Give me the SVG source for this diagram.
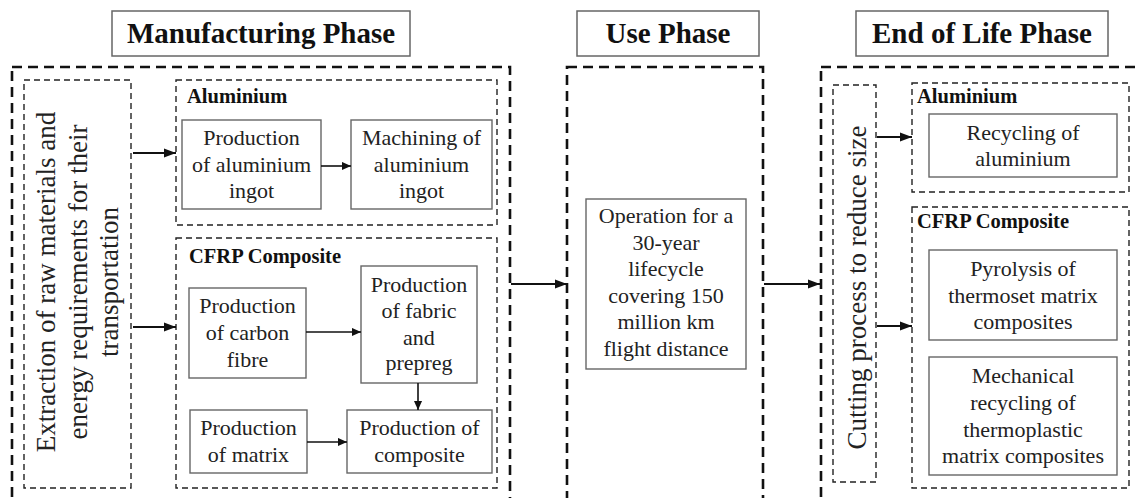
<svg xmlns="http://www.w3.org/2000/svg" width="1135" height="498" viewBox="0 0 1135 498">
<defs>
<marker id="ah" viewBox="0 0 12 10" refX="12" refY="5" markerWidth="12" markerHeight="10" markerUnits="userSpaceOnUse" orient="auto">
<path d="M0,0.5 L12,5 L0,9.5 Z" fill="#111"/>
</marker>
<marker id="ahs" viewBox="0 0 10 10" refX="10" refY="5" markerWidth="10" markerHeight="9" markerUnits="userSpaceOnUse" orient="auto">
<path d="M0,0.5 L10,5 L0,9.5 Z" fill="#111"/>
</marker>
</defs>
<style>
.title{fill:#fff;stroke:#666;stroke-width:1.5}
.tt{font-family:"Liberation Serif","Times New Roman",serif;font-weight:bold;font-size:29px;fill:#111;text-anchor:middle}
.outer{fill:none;stroke:#111;stroke-width:2.6;stroke-dasharray:10 6}
.inner{fill:none;stroke:#222;stroke-width:1.4;stroke-dasharray:6 4}
.box{fill:#fff;stroke:#666;stroke-width:1.4}
.t{font-family:"Liberation Serif","Times New Roman",serif;font-size:22px;fill:#222;text-anchor:middle}
.h{font-family:"Liberation Serif","Times New Roman",serif;font-weight:bold;font-size:20.5px;fill:#111}
.big{font-family:"Liberation Serif","Times New Roman",serif;font-size:27px;fill:#222;text-anchor:middle}
.a{fill:none;stroke:#111;stroke-width:2.2;marker-end:url(#ah)}
.as{fill:none;stroke:#111;stroke-width:1.6;marker-end:url(#ahs)}
</style>
<rect width="1135" height="498" fill="#fff"/>

<g id="title-manufacturing">
<rect class="title" x="112" y="11" width="298" height="45"/>
<text class="tt" x="261" y="43">Manufacturing Phase</text>
</g>
<g id="title-use">
<rect class="title" x="577" y="11" width="182" height="45"/>
<text class="tt" x="668" y="43">Use Phase</text>
</g>
<g id="title-eol">
<rect class="title" x="856" y="11" width="252" height="45"/>
<text class="tt" x="982" y="43">End of Life Phase</text>
</g>

<g id="manufacturing-phase">
<rect class="outer" x="12" y="67" width="498" height="445"/>
</g>
<g id="use-phase">
<rect class="outer" x="567" y="67" width="196" height="445"/>
</g>
<g id="eol-phase">
<rect class="outer" x="821" y="67" width="330" height="445"/>
</g>

<g id="extraction">
<rect class="inner" x="24" y="80" width="107" height="408"/>
<text class="big" transform="translate(55,282) rotate(-90)">Extraction of raw materials and</text>
<text class="big" transform="translate(87,282) rotate(-90)">energy requirements for their</text>
<text class="big" transform="translate(118,282) rotate(-90)">transportation</text>
</g>

<g id="mfg-aluminium">
<rect class="inner" x="176" y="80" width="321" height="145"/>
<text class="h" x="187" y="103">Aluminium</text>
</g>
<g id="prod-al-ingot">
<rect class="box" x="182" y="120" width="139" height="89"/>
<text class="t" x="251.5" y="145">Production</text>
<text class="t" x="251.5" y="172">of aluminium</text>
<text class="t" x="251.5" y="198">ingot</text>
</g>
<g id="machining">
<rect class="box" x="351" y="120" width="141" height="89"/>
<text class="t" x="421.5" y="145">Machining of</text>
<text class="t" x="421.5" y="172">aluminium</text>
<text class="t" x="421.5" y="198">ingot</text>
</g>

<g id="mfg-cfrp">
<rect class="inner" x="176" y="238" width="321" height="250"/>
<text class="h" x="189" y="263">CFRP Composite</text>
</g>
<g id="carbon-fibre">
<rect class="box" x="189" y="288" width="117" height="90"/>
<text class="t" x="247.5" y="313">Production</text>
<text class="t" x="247.5" y="340">of carbon</text>
<text class="t" x="247.5" y="367">fibre</text>
</g>
<g id="fabric-prepreg">
<rect class="box" x="361" y="266" width="116" height="117"/>
<text class="t" x="419" y="292">Production</text>
<text class="t" x="419" y="318">of fabric</text>
<text class="t" x="419" y="345">and</text>
<text class="t" x="419" y="370">prepreg</text>
</g>
<g id="matrix">
<rect class="box" x="190" y="410" width="117" height="63"/>
<text class="t" x="248.5" y="435">Production</text>
<text class="t" x="248.5" y="462">of matrix</text>
</g>
<g id="composite">
<rect class="box" x="347" y="410" width="145" height="63"/>
<text class="t" x="419.5" y="435">Production of</text>
<text class="t" x="419.5" y="462">composite</text>
</g>

<g id="operation">
<rect class="box" x="586" y="199" width="160" height="170"/>
<text class="t" x="666" y="223">Operation for a</text>
<text class="t" x="666" y="250">30-year</text>
<text class="t" x="666" y="276">lifecycle</text>
<text class="t" x="666" y="303">covering 150</text>
<text class="t" x="666" y="329">million km</text>
<text class="t" x="666" y="356">flight distance</text>
</g>

<g id="cutting">
<rect class="inner" x="833" y="85" width="43" height="397"/>
<text class="big" transform="translate(866,287.5) rotate(-90)">Cutting process to reduce size</text>
</g>

<g id="eol-aluminium">
<rect class="inner" x="912" y="83" width="217" height="109"/>
<text class="h" x="917" y="103">Aluminium</text>
</g>
<g id="recycling-al">
<rect class="box" x="929" y="114" width="188" height="63"/>
<text class="t" x="1023" y="140">Recycling of</text>
<text class="t" x="1023" y="166">aluminium</text>
</g>

<g id="eol-cfrp">
<rect class="inner" x="912" y="207" width="217" height="281"/>
<text class="h" x="917" y="228">CFRP Composite</text>
</g>
<g id="pyrolysis">
<rect class="box" x="929" y="250" width="188" height="90"/>
<text class="t" x="1023" y="276">Pyrolysis of</text>
<text class="t" x="1023" y="303">thermoset matrix</text>
<text class="t" x="1023" y="329">composites</text>
</g>
<g id="mechanical">
<rect class="box" x="929" y="357" width="188" height="118"/>
<text class="t" x="1023" y="383">Mechanical</text>
<text class="t" x="1023" y="410">recycling of</text>
<text class="t" x="1023" y="437">thermoplastic</text>
<text class="t" x="1023" y="463">matrix composites</text>
</g>

<g id="connectors">
<path class="a" d="M133,153 H176"/>
<path class="a" d="M133,327 H176"/>
<path class="as" d="M321,166 H351"/>
<path class="as" d="M306,332 H361"/>
<path class="as" d="M418,383 V410"/>
<path class="as" d="M307,442 H347"/>
<path class="a" d="M511,284 H567"/>
<path class="a" d="M764,284 H820"/>
<path class="a" d="M877,137 H912"/>
<path class="a" d="M877,326 H912"/>
</g>
</svg>
